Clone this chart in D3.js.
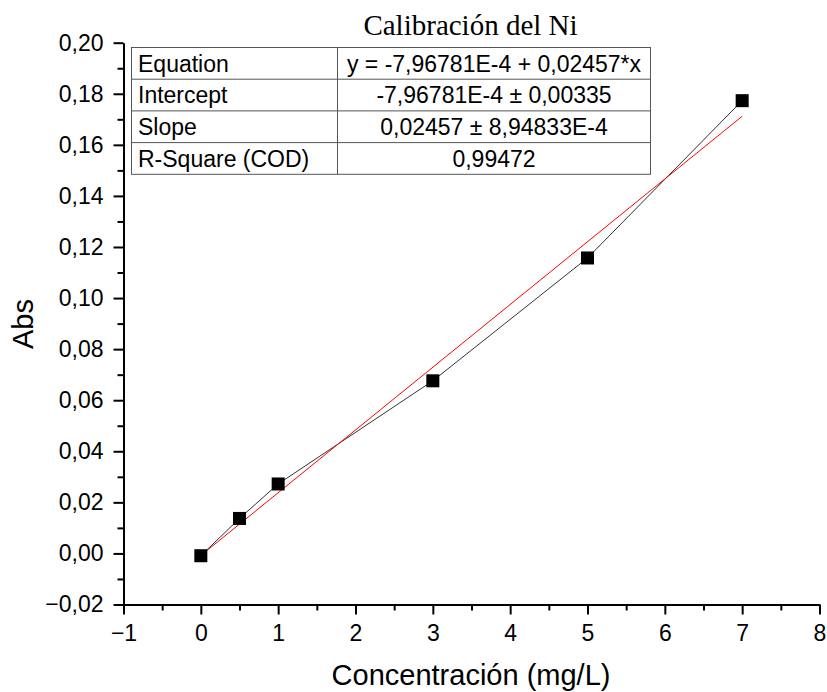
<!DOCTYPE html>
<html>
<head>
<meta charset="utf-8">
<script src="https://cdn.jsdelivr.net/npm/d3@7"></script>
<style>
  html, body { margin: 0; padding: 0; background: #fff; }
  svg { display: block; }
</style>
</head>
<body>
<svg id="chart" width="827" height="692"></svg>
<script>
// Calibration data for Ni: concentration (mg/L) vs absorbance
const concentration = [0, 0.5, 1, 3, 5, 7];
const absorbance = [-0.0009, 0.0137, 0.0272, 0.0676, 0.1157, 0.1773];

// Linear fit parameters
const intercept = -7.96781e-4;
const slope = 0.02457;

const xTicks = [-1, 0, 1, 2, 3, 4, 5, 6, 7, 8];
const yTicks = [-0.02, 0, 0.02, 0.04, 0.06, 0.08, 0.10, 0.12, 0.14, 0.16, 0.18, 0.20];

const tableRows = ["Equation", "Intercept", "Slope", "R-Square (COD)"];
const tableValues = [
  "y = -7,96781E-4 + 0,02457*x",
  "-7,96781E-4 ± 0,00335",
  "0,02457 ± 8,94833E-4",
  "0,99472"
];

const title = "Calibración del Ni";
const xTitle = "Concentración (mg/L)";
const yTitle = "Abs";

const svg = d3.select("#chart");
const font = "'Liberation Sans', Arial, sans-serif";

const x = d3.scaleLinear().domain([-1, 8]).range([123.5, 819.5]);
const y = d3.scaleLinear().domain([-0.02, 0.20]).range([604.5, 42.7]);

const fmtX = d => (d < 0 ? "\u2212" + Math.abs(d) : String(d));
const fmtY = d => {
  const s = Math.abs(d).toFixed(2).replace(".", ",");
  return (d < -1e-9 ? "\u2212" : "") + s;
};

// Minor ticks
const xMinor = d3.range(-0.5, 8, 1);
const yMinor = d3.range(-0.01, 0.2, 0.02);

svg.append("g")
  .attr("transform", `translate(0,${y(-0.02)})`)
  .call(d3.axisBottom(x).tickValues(xMinor).tickSize(6).tickFormat(""))
  .call(g => g.select(".domain").remove())
  .call(g => g.selectAll("line").attr("stroke", "#000").attr("stroke-width", 2));

svg.append("g")
  .attr("transform", `translate(${x(-1)},0)`)
  .call(d3.axisLeft(y).tickValues(yMinor).tickSize(6).tickFormat(""))
  .call(g => g.select(".domain").remove())
  .call(g => g.selectAll("line").attr("stroke", "#000").attr("stroke-width", 2));

// Major axes
const xAxis = svg.append("g")
  .attr("transform", `translate(0,${y(-0.02)})`)
  .call(d3.axisBottom(x).tickValues(xTicks).tickSize(10).tickSizeOuter(0).tickPadding(10).tickFormat(fmtX));
xAxis.select(".domain").attr("stroke", "#000").attr("stroke-width", 2);
xAxis.selectAll("line").attr("stroke", "#000").attr("stroke-width", 2);
xAxis.selectAll("text").attr("font-family", font).attr("font-size", 23).attr("fill", "#000");

const yAxis = svg.append("g")
  .attr("transform", `translate(${x(-1)},0)`)
  .call(d3.axisLeft(y).tickValues(yTicks).tickSize(10).tickSizeOuter(0).tickPadding(10).tickFormat(fmtY));
yAxis.select(".domain").attr("stroke", "#000").attr("stroke-width", 2);
yAxis.selectAll("line").attr("stroke", "#000").attr("stroke-width", 2);
yAxis.selectAll("text").attr("font-family", font).attr("font-size", 23).attr("fill", "#000");

// Connecting line through the measured points
const pts = concentration.map((c, i) => [c, absorbance[i]]);
svg.append("path")
  .datum(pts)
  .attr("fill", "none")
  .attr("stroke", "#333")
  .attr("stroke-width", 1)
  .attr("d", d3.line().x(d => x(d[0])).y(d => y(d[1])));

// Fitted regression line
const fitX = [d3.min(concentration), d3.max(concentration)];
svg.append("path")
  .datum(fitX.map(c => [c, intercept + slope * c]))
  .attr("fill", "none")
  .attr("stroke", "#ff0000")
  .attr("stroke-width", 1)
  .attr("d", d3.line().x(d => x(d[0])).y(d => y(d[1])));

// Square markers
const ms = 13;
svg.append("g").selectAll("rect")
  .data(pts)
  .join("rect")
  .attr("x", d => x(d[0]) - ms / 2)
  .attr("y", d => y(d[1]) - ms / 2)
  .attr("width", ms)
  .attr("height", ms)
  .attr("fill", "#000");

// Title
svg.append("text")
  .attr("x", 470.5).attr("y", 35)
  .attr("text-anchor", "middle")
  .attr("font-family", "'Liberation Serif', 'Times New Roman', serif")
  .attr("font-size", 29)
  .attr("fill", "#000")
  .text(title);

// Axis titles
svg.append("text")
  .attr("x", 471).attr("y", 685)
  .attr("text-anchor", "middle")
  .attr("font-family", font)
  .attr("font-size", 29)
  .attr("fill", "#000")
  .text(xTitle);

svg.append("text")
  .attr("transform", "translate(33,324) rotate(-90)")
  .attr("text-anchor", "middle")
  .attr("font-family", font)
  .attr("font-size", 29)
  .attr("fill", "#000")
  .text(yTitle);

// Fit statistics table
const tLeft = 131.5, tRight = 650.5, tTop = 47.5, rowH = 31.7, tDiv = 337.5;
const table = svg.append("g");
table.append("rect")
  .attr("x", tLeft).attr("y", tTop)
  .attr("width", tRight - tLeft).attr("height", rowH * tableRows.length)
  .attr("fill", "#fff").attr("stroke", "#555").attr("stroke-width", 1);
table.selectAll("line.row")
  .data(d3.range(1, tableRows.length))
  .join("line")
  .attr("x1", tLeft).attr("x2", tRight)
  .attr("y1", i => tTop + i * rowH).attr("y2", i => tTop + i * rowH)
  .attr("stroke", "#555").attr("stroke-width", 1);
table.append("line")
  .attr("x1", tDiv).attr("x2", tDiv)
  .attr("y1", tTop).attr("y2", tTop + rowH * tableRows.length)
  .attr("stroke", "#555").attr("stroke-width", 1);
table.selectAll("text.name")
  .data(tableRows)
  .join("text")
  .attr("x", tLeft + 6.5)
  .attr("y", (d, i) => tTop + i * rowH + 24)
  .attr("font-family", font).attr("font-size", 23).attr("fill", "#000")
  .text(d => d);
table.selectAll("text.val")
  .data(tableValues)
  .join("text")
  .attr("x", (tDiv + tRight) / 2)
  .attr("y", (d, i) => tTop + i * rowH + 24)
  .attr("text-anchor", "middle")
  .attr("font-family", font).attr("font-size", 23).attr("fill", "#000")
  .text(d => d);
</script>
</body>
</html>
